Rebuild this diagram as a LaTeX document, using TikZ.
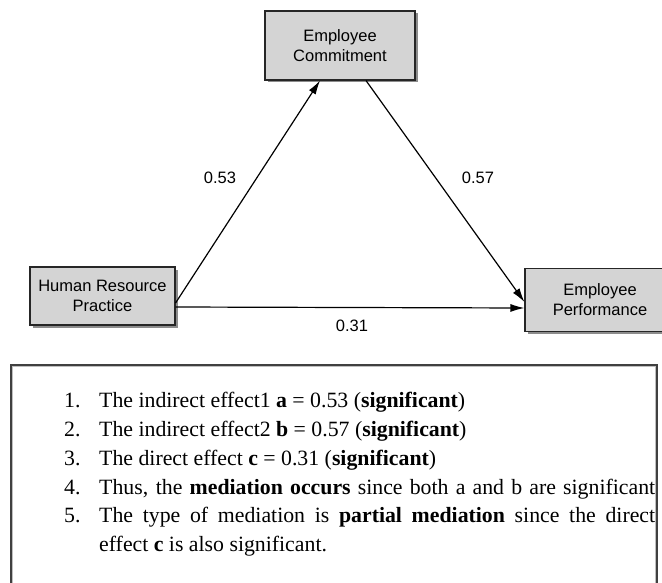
\documentclass[tikz,border=0pt]{standalone}
\usepackage{fontspec}
\setmainfont{Liberation Serif}
\newfontfamily\boxfont{Liberation Sans}
\usetikzlibrary{arrows.meta,positioning}
\tikzset{
  varbox/.style={draw=black!85, line width=1.1pt, fill=black!17, minimum width=#1, align=center, font=\boxfont\fontsize{16.5}{20}\selectfont, inner sep=0pt},
  path/.style={line width=1.2pt, -{Latex[length=14pt,width=8pt]}},
  coef/.style={font=\boxfont\fontsize{16.5}{20}\selectfont, inner sep=0pt},
  numtxt/.style={anchor=base west, inner sep=0pt, font=\fontsize{21.8}{26}\selectfont},
}
\begin{document}
\begin{tikzpicture}[x=1pt,y=-1pt]
\useasboundingbox (0,0) rectangle (662,583);
% shadows
\fill[black!45] (267.5,13) rectangle (417.5,82.5);
\fill[black!45] (32.5,269.5) rectangle (177.5,328);
\fill[black!45] (527.5,270.5) rectangle (680,334);
\node[varbox=150pt, minimum height=69pt] (ec) at (340,45.5) {Employee\\Commitment};
\node[varbox=145pt, minimum height=58pt] (hrp) at (102.5,296) {Human Resource\\Practice};
\node[varbox=150pt, minimum height=63pt] (ep) at (600,300) {Employee\\Performance};
\coordinate (a1) at ([yshift=-7pt]hrp.east);
\coordinate (a2) at ([yshift=-11pt]hrp.east);
\coordinate (b1) at ([xshift=-20pt]ec.south);
\coordinate (b2) at ([xshift=26pt]ec.south);
\coordinate (c1) at ([yshift=-2pt]ep.west);
\coordinate (c2) at ([yshift=-8pt]ep.west);
\draw[path] (a1) -- (b1);
\draw[path] (b2) -- (c1);
\draw[path] (a2) -- (c2);
\node[coef] (la) at (220,178) {0.53};
\node[coef] (lb) at (478,178) {0.57};
\node[coef] (lc) at (352,326) {0.31};
% text box
\draw[black!75, line width=1.3pt] (11,590) -- (11,365) -- (657,365) -- (657,590);
\draw[black!25, line width=0.8pt] (12.5,590) -- (12.5,366.5) -- (655.5,366.5) -- (655.5,590);
\node[numtxt] (n1) at (64,407) {1.};
\node[numtxt] (t1) at (99,407) {The indirect effect1 \textbf{a} = 0.53 (\textbf{significant})};
\node[numtxt] (n2) at (64,436) {2.};
\node[numtxt] (t2) at (99,436) {The indirect effect2 \textbf{b} = 0.57 (\textbf{significant})};
\node[numtxt] (n3) at (64,465) {3.};
\node[numtxt] (t3) at (99,465) {The direct effect \textbf{c} = 0.31 (\textbf{significant})};
\node[numtxt] (n4) at (64,494) {4.};
\node[numtxt] (t4) at (99,494) {\makebox[556pt][s]{Thus, the \textbf{mediation occurs} since both a and b are significant}};
\node[numtxt] (n5) at (64,522) {5.};
\node[numtxt] (t5) at (99,522) {\makebox[556pt][s]{The type of mediation is \textbf{partial mediation} since the direct}};
\node[numtxt] (t6) at (99,551) {effect \textbf{c} is also significant.};
\end{tikzpicture}
\end{document}
